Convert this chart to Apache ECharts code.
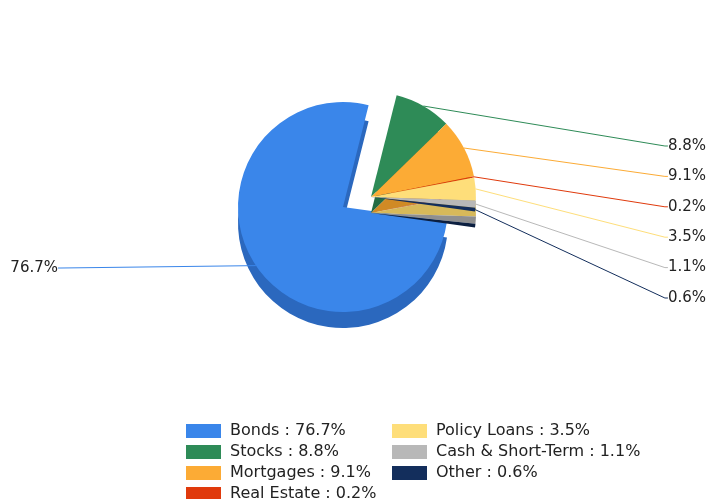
<!DOCTYPE html>
<html>
<head>
<meta charset="utf-8">
<script src="https://cdn.jsdelivr.net/npm/echarts@6/dist/echarts.min.js"></script>
<style>
  html, body { margin: 0; padding: 0; background: #fff; }
  #chart { width: 709px; height: 499px; }
</style>
</head>
<body>
<div id="chart"></div>
<script>
// 资产配置饼图 (模拟 3D 效果: 下层偏移一份深色饼做侧壁)
var names = ['Bonds', 'Stocks', 'Mortgages', 'Real Estate', 'Policy Loans', 'Cash & Short-Term', 'Other'];
var values = [76.7, 8.8, 9.1, 0.2, 3.5, 1.1, 0.6];
var colors = ['#3a86ea', '#2e8b57', '#fcab35', '#e03a0c', '#fede7a', '#b8b8b8', '#132e5c'];
var sideColors = ['#2b68be', '#236b43', '#d08a25', '#b02c08', '#d7b95a', '#8f8f8f', '#0c1f40'];

(function () {
  var myChart = echarts.init(document.getElementById('chart'));

  var cx = 343, cy = 207, depth = 16;
  // 炸开的一组整体平移
  var shift = [28, -10];

  // group=false 只画 Bonds, group=true 只画其余几块, 其它做透明占位
  function buildData(cols, group, withLabel) {
    return names.map(function (n, i) {
      var visible = group ? i > 0 : i === 0;
      return {
        name: n,
        value: values[i],
        itemStyle: { color: visible ? cols[i] : 'rgba(0,0,0,0)' },
        label: { show: withLabel && visible },
        labelLine: { show: withLabel && visible }
      };
    });
  }

  var common = {
    type: 'pie',
    radius: 105,
    startAngle: -8,
    clockwise: true,
    avoidLabelOverlap: false,
    animation: false,
    emphasis: { disabled: true }
  };

  var topLabel = {
    show: true,
    formatter: function (p) { return p.value.toFixed(1) + '%'; },
    fontFamily: 'DejaVu Sans',
    fontSize: 15,
    color: '#222'
  };
  var topLine = {
    show: true,
    length: 16,
    length2: 3,
    lineStyle: { width: 1 }
  };
  // 标签按参考图排成一列
  function layout(p) {
    var i = p.dataIndex;
    if (i === 0) {
      return { x: 58, y: 268, align: 'right', verticalAlign: 'middle' };
    }
    return { x: 706, y: 146 + (i - 1) * 30.4, align: 'right', verticalAlign: 'middle' };
  }

  var option = {
    backgroundColor: '#fff',
    legend: {
      orient: 'vertical',
      left: 181,
      top: 418,
      height: 95,
      itemWidth: 35,
      itemHeight: 14,
      itemGap: 5,
      icon: 'rect',
      data: names.map(function (n, i) {
        return { name: n, itemStyle: { color: colors[i] } };
      }),
      selectedMode: false,
      formatter: function (name) {
        var i = names.indexOf(name);
        return name + ' : ' + values[i].toFixed(1) + '%';
      },
      textStyle: {
        fontFamily: 'DejaVu Sans',
        fontSize: 16,
        color: '#222',
        width: 157,
        lineHeight: 15,
        padding: [0, 0, 0, 4]
      }
    },
    series: [
      Object.assign({}, common, {
        name: 'topBonds',
        z: 4,
        center: [cx, cy],
        data: buildData(colors, false, true),
        label: topLabel,
        labelLine: topLine,
        labelLayout: layout
      }),
      Object.assign({}, common, {
        name: 'topGroup',
        z: 6,
        center: [cx + shift[0], cy + shift[1]],
        data: buildData(colors, true, true),
        label: topLabel,
        labelLine: topLine,
        labelLayout: layout
      }),
      Object.assign({}, common, {
        name: 'sideBonds',
        z: 2,
        silent: true,
        center: [cx, cy + depth],
        data: buildData(sideColors, false, false),
        label: { show: false },
        labelLine: { show: false }
      }),
      Object.assign({}, common, {
        name: 'sideGroup',
        z: 5,
        silent: true,
        center: [cx + shift[0], cy + shift[1] + depth],
        data: buildData(sideColors, true, false),
        label: { show: false },
        labelLine: { show: false }
      })
    ]
  };
  myChart.setOption(option);
})();
</script>
</body>
</html>
